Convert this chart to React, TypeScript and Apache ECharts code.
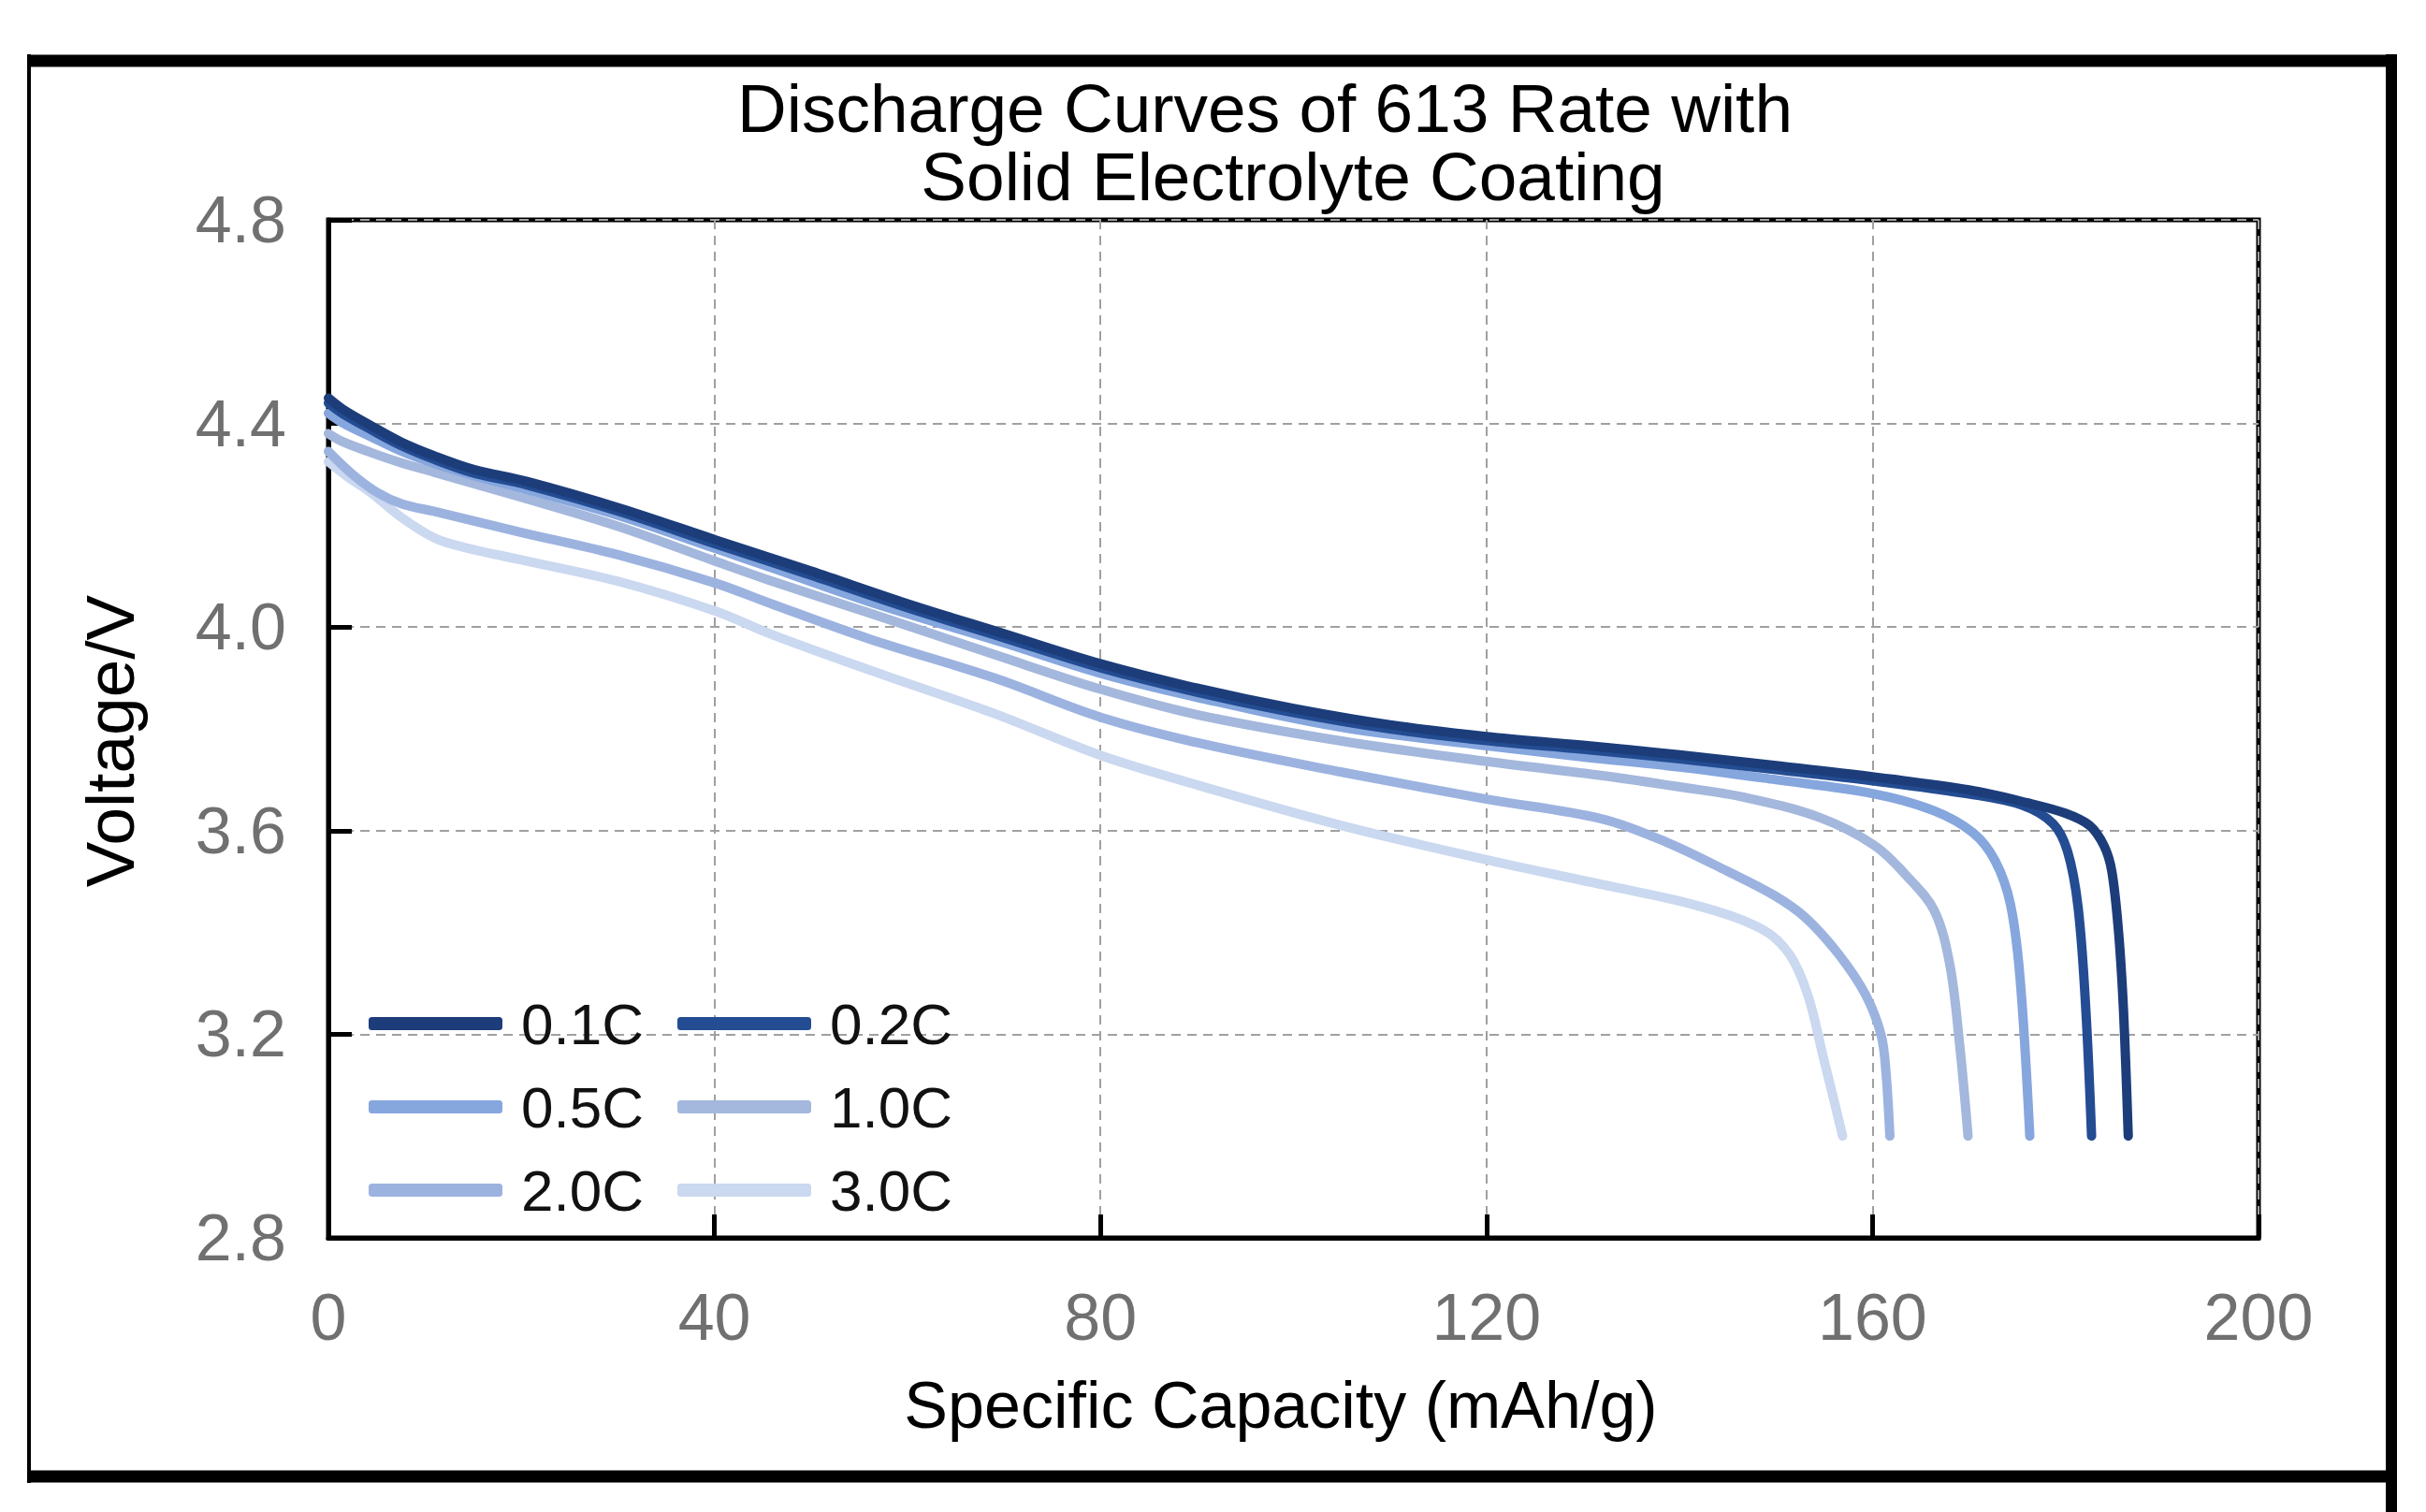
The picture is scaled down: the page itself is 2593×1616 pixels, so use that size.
import { useEffect, useRef } from 'react'
import * as echarts from 'echarts'

const FONT = '"Liberation Sans", Arial, sans-serif'

const RATES = ['0.1C', '0.2C', '0.5C', '1.0C', '2.0C', '3.0C']
const RATE_COLORS = ['#1c3d7a', '#234c92', '#86a6de', '#a4b7dc', '#9cb3e0', '#cad8f0']

const X_TICKS = [0, 40, 80, 120, 160, 200]
const Y_TICKS = [2.8, 3.2, 3.6, 4.0, 4.4, 4.8]

// [specific capacity mAh/g, voltage V]
const C01 = [
  [0, 4.45], [1.5, 4.428], [4.4, 4.396], [7.5, 4.364], [10.9, 4.337], [15, 4.31], [20.6, 4.286],
  [30.3, 4.233], [40, 4.172], [50, 4.11], [60, 4.046], [70, 3.987], [80, 3.928], [90, 3.88],
  [100, 3.84], [110, 3.808], [120, 3.785], [130, 3.768], [140, 3.749], [150, 3.728], [160, 3.706],
  [170, 3.68], [176, 3.655], [180, 3.634], [182.5, 3.61], [184, 3.57], [184.8, 3.52],
  [185.5, 3.4], [186, 3.25], [186.5, 3.0],
]
const C02 = [
  [0, 4.44], [1.5, 4.419], [4.4, 4.388], [7.5, 4.357], [10.9, 4.33], [15, 4.303], [20.6, 4.279],
  [30.3, 4.226], [40, 4.164], [50, 4.102], [60, 4.038], [70, 3.979], [80, 3.92], [90, 3.872],
  [100, 3.832], [110, 3.8], [120, 3.777], [130, 3.76], [140, 3.741], [150, 3.72], [160, 3.698],
  [170, 3.672], [175.5, 3.65], [178.7, 3.614], [180.2, 3.56], [181.3, 3.45], [182.1, 3.25],
  [182.7, 3.0],
]
const C05 = [
  [0, 4.42], [1.5, 4.401], [4.4, 4.374], [7.5, 4.346], [10.9, 4.322], [15, 4.298], [20.6, 4.27],
  [30.3, 4.218], [40, 4.155], [46, 4.116], [56, 4.05], [70, 3.969], [80, 3.909], [90, 3.862],
  [105, 3.803], [120, 3.767], [130, 3.745], [140, 3.725], [150, 3.7], [160, 3.673],
  [166.4, 3.639], [170.4, 3.596], [172.7, 3.541], [174.3, 3.455], [175.3, 3.308], [176.3, 3.0],
]
const C10 = [
  [0, 4.38], [1.5, 4.364], [4.4, 4.343], [7.5, 4.323], [11, 4.304], [20, 4.255], [30, 4.198],
  [40, 4.13], [46, 4.09], [56, 4.028], [69, 3.946], [80, 3.878], [90, 3.828], [105, 3.776],
  [120, 3.736], [132, 3.708], [140, 3.686], [146.6, 3.666], [154.5, 3.626], [160.2, 3.571],
  [163.6, 3.51], [166.4, 3.443], [168, 3.338], [169, 3.185], [169.9, 3.0],
]
const C20 = [
  [0, 4.345], [2.5, 4.3], [5, 4.265], [7.6, 4.242], [11, 4.227], [20, 4.186], [30, 4.142],
  [40, 4.087], [46, 4.045], [56, 3.977], [69, 3.9], [80, 3.823], [90, 3.773], [105, 3.715],
  [120, 3.662], [132, 3.623], [138.7, 3.577], [145, 3.52], [149.8, 3.473], [153, 3.43],
  [156.5, 3.357], [159.3, 3.277], [160.9, 3.198], [161.4, 3.124], [161.8, 3.0],
]
const C30 = [
  [0, 4.325], [2, 4.295], [4.4, 4.264], [7.6, 4.215], [11, 4.175], [14, 4.157], [20, 4.132],
  [30, 4.09], [40, 4.032], [46, 3.985], [56, 3.916], [69, 3.83], [80, 3.748], [90, 3.69],
  [105, 3.61], [120, 3.543], [132, 3.494], [142, 3.452], [148.6, 3.406], [151.4, 3.357],
  [153.3, 3.277], [154.9, 3.155], [156.1, 3.063], [156.9, 3.0],
]
const CURVES = [C01, C02, C05, C10, C20, C30]

export default function App() {
  const ref = useRef<HTMLDivElement>(null)

  useEffect(() => {
    if (!ref.current) return
    document.body.style.margin = '0'
    document.body.style.overflow = 'hidden'
    const chart = echarts.init(ref.current, null, { renderer: 'svg' })

    const axisCommon = {
      type: 'value',
      axisLine: { show: true, lineStyle: { color: '#000', width: 5 } },
      axisTick: { show: true, inside: true, length: 25, lineStyle: { color: '#000', width: 5 } },
      splitLine: { show: true, lineStyle: { color: '#a0a0a0', width: 2, type: [10, 7] } },
    }

    // draw 3.0C first so the darker curves sit on top
    const series = RATES.map((name, i) => ({
      name,
      type: 'line',
      data: CURVES[i],
      symbol: 'none',
      showSymbol: false,
      smooth: 0.35,
      color: RATE_COLORS[i],
      lineStyle: { width: 10, color: RATE_COLORS[i], cap: 'round', join: 'round' },
      emphasis: { disabled: true },
    })).reverse()

    const legendCommon = {
      orient: 'vertical',
      top: 1063,
      padding: 0,
      itemGap: 27,
      itemWidth: 143,
      itemHeight: 14,
      icon: 'roundRect',
      textStyle: { fontSize: 62, lineHeight: 60, color: '#111', fontFamily: FONT, padding: [0, 0, 0, 15] },
    }

    const textStyle = (text: string, size: number) => ({
      text, fill: '#000', font: `${size}px ${FONT}`, align: 'center', verticalAlign: 'middle',
    })

    chart.setOption({
      animation: false,
      backgroundColor: '#ffffff',
      grid: { left: 351, right: 179, top: 235, bottom: 293, show: true, borderColor: '#000', borderWidth: 5 },
      xAxis: {
        ...axisCommon,
        min: X_TICKS[0],
        max: X_TICKS[X_TICKS.length - 1],
        interval: 40,
        axisLabel: { color: '#707070', fontSize: 70, margin: 50, fontFamily: FONT },
      },
      yAxis: {
        ...axisCommon,
        min: Y_TICKS[0],
        max: Y_TICKS[Y_TICKS.length - 1],
        interval: 0.4,
        axisLabel: { color: '#707070', fontSize: 70, margin: 45, fontFamily: FONT, formatter: (v: number) => v.toFixed(1) },
      },
      legend: [
        { ...legendCommon, left: 394, data: [RATES[0], RATES[2], RATES[4]] },
        { ...legendCommon, left: 724, data: [RATES[1], RATES[3], RATES[5]] },
      ],
      series,
      graphic: [
        { type: 'text', x: 1352, y: 115, silent: true, style: textStyle('Discharge Curves of 613 Rate with', 73) },
        { type: 'text', x: 1382, y: 188, silent: true, style: textStyle('Solid Electrolyte Coating', 73) },
        // axis titles
        { type: 'text', x: 1369, y: 1502, silent: true, style: textStyle('Specific Capacity (mAh/g)', 70) },
        { type: 'text', x: 117, y: 792, rotation: Math.PI / 2, silent: true, style: textStyle('Voltage/V', 73) },
        // outer frame
        { type: 'line', silent: true, shape: { x1: 29, y1: 65, x2: 2562, y2: 65 }, style: { stroke: '#000', lineWidth: 13 } },
        { type: 'line', silent: true, shape: { x1: 31, y1: 58, x2: 31, y2: 1585 }, style: { stroke: '#000', lineWidth: 4 } },
        { type: 'line', silent: true, shape: { x1: 29, y1: 1578, x2: 2562, y2: 1578 }, style: { stroke: '#000', lineWidth: 13 } },
        { type: 'line', silent: true, shape: { x1: 2556, y1: 58, x2: 2556, y2: 1616 }, style: { stroke: '#000', lineWidth: 12 } },
      ],
    })

    return () => { chart.dispose() }
  }, [])

  return <div ref={ref} style={{ width: 2593, height: 1616 }} />
}
